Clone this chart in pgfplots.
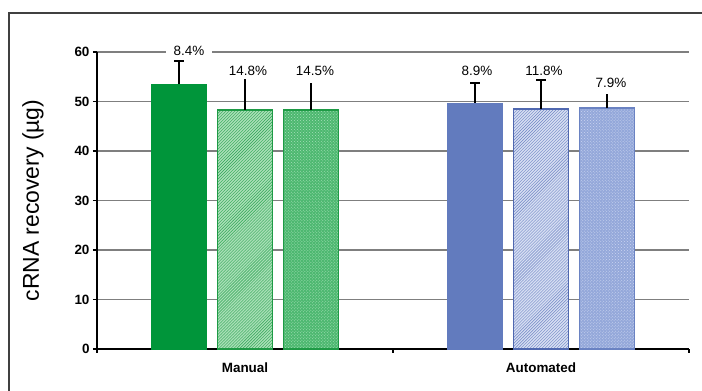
\documentclass[border=0pt]{standalone}
\usepackage{pgfplots}
\pgfplotsset{compat=1.18}
\usepackage{fontspec}
\setmainfont{Liberation Sans}
\usetikzlibrary{patterns}
\definecolor{gSolid}{HTML}{00953A}
\definecolor{gHatchBg}{HTML}{A8DFB6}
\definecolor{gHatchLn}{HTML}{2FA455}
\definecolor{gBorder}{HTML}{1E9A45}
\definecolor{gDotBg}{HTML}{4DB870}
\definecolor{gDot}{HTML}{A5E0B8}
\definecolor{bSolid}{HTML}{627BBE}
\definecolor{bHatchBg}{HTML}{D6DEF2}
\definecolor{bHatchLn}{HTML}{7086C4}
\definecolor{bBorder}{HTML}{5068B0}
\definecolor{bDotBg}{HTML}{94A8DA}
\definecolor{bDot}{HTML}{CBD5F0}
\definecolor{bDotBorder}{HTML}{6A82C2}
\definecolor{gridc}{HTML}{7F7F7F}
\begin{document}
\begin{tikzpicture}
\useasboundingbox (0,0) rectangle (702bp,391bp);
\draw[line width=1.2bp, black!75] (9bp,-2bp) -- (9bp,378bp) -- (704bp,378bp);
\begin{axis}[
  at={(97bp,42bp)}, anchor=origin,
  scale only axis, width=592bp, height=297bp,
  xmin=0, xmax=2, ymin=0, ymax=60,
  ybar, bar width=55bp,
  axis x line*=bottom, axis y line*=left,
  axis line style={line width=1.3bp, black, -},
  xtick={0,1,2}, xticklabels={Manual,Automated}, x tick label as interval,
  ytick={0,10,...,60},
  ymajorgrids, grid style={line width=1.3bp, gridc},
  tick style={line width=1.3bp, black},
  major tick length=4bp, tick align=outside,
  /pgf/number format/assume math mode=true,
  yticklabel style={font=\fontsize{13.5}{14}\selectfont\bfseries},
  xticklabel style={font=\fontsize{13.5}{14}\selectfont\bfseries, yshift=-6bp},
  ylabel={cRNA recovery (µg)},
  ylabel style={font=\fontsize{23}{25}\selectfont, at={(axis description cs:0,0.5)}, anchor=center, yshift=64bp},
  error bars/error bar style={line width=1.5bp, black},
  clip=false,
]
% Manual
\addplot[bar shift=-66bp, fill=gSolid, draw=gSolid,
  error bars/.cd, y dir=plus, y explicit,
  error mark options={line width=1.5bp, black, mark size=5bp, rotate=90}]
  coordinates {(0.5,53.5) +- (0,4.7)};
\addplot[bar shift=0bp, fill=gHatchBg, draw=gBorder, line width=1.2bp,
  postaction={pattern=north east lines, pattern color=gHatchLn},
  error bars/.cd, y dir=plus, y explicit, error mark=none]
  coordinates {(0.5,48.3) +- (0,6.2)};
\addplot[bar shift=66bp, fill=gDotBg, draw=gBorder, line width=1.2bp,
  postaction={pattern=crosshatch dots, pattern color=gDot},
  error bars/.cd, y dir=plus, y explicit, error mark=none]
  coordinates {(0.5,48.3) +- (0,5.4)};
% Automated
\addplot[bar shift=-66bp, fill=bSolid, draw=bSolid,
  error bars/.cd, y dir=plus, y explicit,
  error mark options={line width=1.5bp, black, mark size=5bp, rotate=90}]
  coordinates {(1.5,49.7) +- (0,4.0)};
\addplot[bar shift=0bp, fill=bHatchBg, draw=bBorder, line width=1.2bp,
  postaction={pattern=north east lines, pattern color=bHatchLn},
  error bars/.cd, y dir=plus, y explicit,
  error mark options={line width=1.5bp, black, mark size=5bp, rotate=90}]
  coordinates {(1.5,48.5) +- (0,5.8)};
\addplot[bar shift=66bp, fill=bDotBg, draw=bDotBorder, line width=1.2bp,
  postaction={pattern=crosshatch dots, pattern color=bDot},
  error bars/.cd, y dir=plus, y explicit, error mark=none]
  coordinates {(1.5,48.7) +- (0,2.8)};
% labels (invisible bars carrying the percentage text)
\addplot[bar shift=-66bp, draw=none, fill=none, nodes near coords, point meta=explicit symbolic,
  every node near coord/.append style={anchor=base, xshift=10bp, font=\fontsize{13.5}{14}\selectfont, fill=white, inner xsep=8bp, inner ysep=1bp}]
  coordinates {(0.5,59.2) [8.4\%]};
\addplot[bar shift=0bp, draw=none, fill=none, nodes near coords, point meta=explicit symbolic,
  every node near coord/.append style={anchor=base, xshift=3bp, font=\fontsize{13.5}{14}\selectfont, inner sep=0pt}]
  coordinates {(0.5,55.35) [14.8\%] (1.5,55.35) [11.8\%]};
\addplot[bar shift=66bp, draw=none, fill=none, nodes near coords, point meta=explicit symbolic,
  every node near coord/.append style={anchor=base, xshift=4bp, font=\fontsize{13.5}{14}\selectfont, inner sep=0pt}]
  coordinates {(0.5,55.35) [14.5\%] (1.5,52.9) [7.9\%]};
\addplot[bar shift=-66bp, draw=none, fill=none, nodes near coords, point meta=explicit symbolic,
  every node near coord/.append style={anchor=base, xshift=2bp, font=\fontsize{13.5}{14}\selectfont, inner sep=0pt}]
  coordinates {(1.5,55.35) [8.9\%]};
\end{axis}
\end{tikzpicture}
\end{document}
